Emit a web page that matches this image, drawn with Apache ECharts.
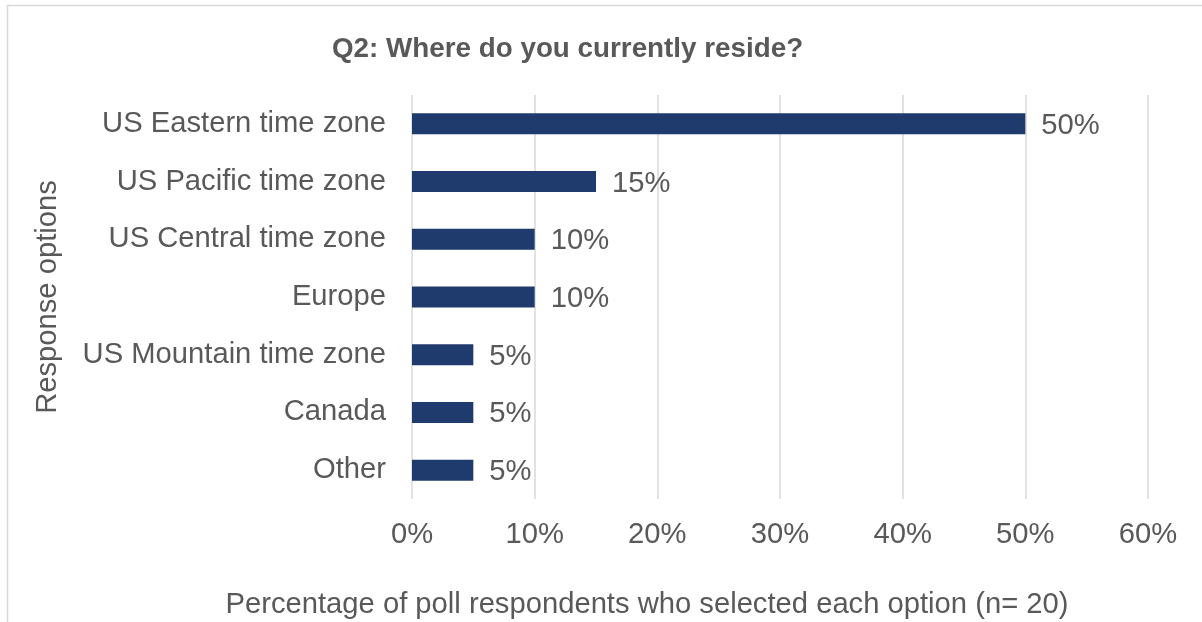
<!DOCTYPE html>
<html>
<head>
<meta charset="utf-8">
<script src="https://cdn.jsdelivr.net/npm/echarts@6/dist/echarts.min.js"></script>
<style>
  html, body { margin: 0; padding: 0; background: #ffffff; }
  #chart { width: 1202px; height: 622px; }
</style>
</head>
<body>
<div id="chart"></div>
<script>
// Poll answers, listed top to bottom
const categories = [
  'US Eastern time zone',
  'US Pacific time zone',
  'US Central time zone',
  'Europe',
  'US Mountain time zone',
  'Canada',
  'Other'
];
// Share of respondents, percent
const shares = [50, 15, 10, 10, 5, 5, 5];
// Value axis ticks
const axisMin = 0;
const axisMax = 60;
const axisStep = 10;

const titleText = 'Q2: Where do you currently reside?';
const xAxisTitle = 'Percentage of poll respondents who selected each option (n= 20)';
const yAxisTitle = 'Response options';

const textColor = '#595959';
const fontFamily = '"Liberation Sans", Arial, sans-serif';
const textSize = 29.2;

const chart = echarts.init(document.getElementById('chart'), null, { renderer: 'canvas' });

chart.setOption({
  backgroundColor: '#ffffff',
  animation: false,
  title: {
    text: titleText,
    left: 327,
    top: 30,
    textStyle: { color: textColor, fontFamily: fontFamily, fontSize: 27.8, fontWeight: 'bold' }
  },
  grid: { left: 412, right: 54, top: 95, bottom: 123, containLabel: false },
  xAxis: {
    type: 'value',
    min: axisMin,
    max: axisMax,
    interval: axisStep,
    axisLine: { show: false },
    axisTick: { show: false },
    splitLine: { show: true, lineStyle: { color: '#d9d9d9', width: 1.5 } },
    axisLabel: {
      formatter: '{value}%',
      color: textColor,
      fontFamily: fontFamily,
      fontSize: textSize,
      margin: 21
    }
  },
  yAxis: {
    type: 'category',
    data: categories,
    inverse: true,
    axisLine: { show: false },
    axisTick: { show: false },
    splitLine: { show: false },
    axisLabel: {
      color: textColor,
      fontFamily: fontFamily,
      fontSize: textSize,
      margin: 26,
      padding: [4, 0, 0, 0]
    }
  },
  series: [{
    type: 'bar',
    data: shares,
    barWidth: 21,
    itemStyle: { color: '#1f3a6d' },
    label: {
      show: true,
      position: 'right',
      distance: 16,
      offset: [0, 2],
      formatter: '{c}%',
      color: textColor,
      fontFamily: fontFamily,
      fontSize: textSize
    }
  }],
  graphic: [
    // chart frame (left and top edges)
    { type: 'line', shape: { x1: 7.5, y1: 5, x2: 7.5, y2: 622 }, style: { stroke: '#d9d9d9', lineWidth: 1.5 }, silent: true },
    { type: 'line', shape: { x1: 7, y1: 5.5, x2: 1202, y2: 5.5 }, style: { stroke: '#d9d9d9', lineWidth: 1.5 }, silent: true },
    {
      type: 'text',
      x: 647, y: 605,
      style: {
        text: xAxisTitle,
        fill: textColor,
        font: textSize + 'px ' + fontFamily,
        textAlign: 'center',
        textVerticalAlign: 'middle'
      }
    },
    {
      type: 'text',
      x: 48, y: 297,
      rotation: Math.PI / 2,
      style: {
        text: yAxisTitle,
        fill: textColor,
        font: textSize + 'px ' + fontFamily,
        textAlign: 'center',
        textVerticalAlign: 'middle'
      }
    }
  ]
});
</script>
</body>
</html>
